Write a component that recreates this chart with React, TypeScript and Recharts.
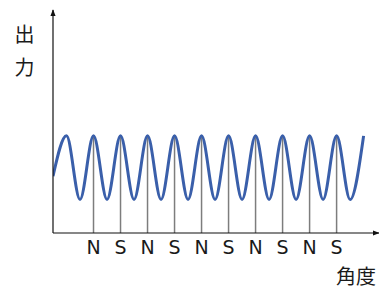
import React from "react";
import {
  LineChart,
  Line,
  XAxis,
  YAxis,
  ReferenceLine,
} from "recharts";

// wave sampled at its turning points (x in pole pitches, y in output units)
const waveX = [
  -0.5, 0, 0.5, 1, 1.5, 2, 2.5, 3, 3.5, 4, 4.5, 5, 5.5, 6, 6.5, 7, 7.5, 8,
  8.5, 9, 9.5, 10, 10.5, 11,
];
const waveY = [
  1.78, 3.05, 1.05, 3.05, 1.05, 3.05, 1.05, 3.05, 1.05, 3.05, 1.05, 3.05,
  1.05, 3.05, 1.05, 3.05, 1.05, 3.05, 1.05, 3.05, 1.05, 3.05, 1.05, 3.05,
];

const poleX = [1, 2, 3, 4, 5, 6, 7, 8, 9, 10];
const poleLabels = ["N", "S", "N", "S", "N", "S", "N", "S", "N", "S"];
const poleTop = 3.05;

const chartData = waveX.map((x, i) => ({ x, y: waveY[i] }));

const AXIS = "#111";
const CJK = "'Noto Sans CJK JP', 'Noto Sans', sans-serif";

export default function App() {
  return (
    <div style={{ position: "absolute", left: 0, top: 0 }}>
      <svg width={0} height={0} style={{ position: "absolute" }}>
        <defs>
          <marker
            id="arrow"
            viewBox="0 0 8 8"
            refX="7"
            refY="4"
            markerWidth="7"
            markerHeight="8"
            markerUnits="userSpaceOnUse"
            orient="auto-start-reverse"
          >
            <path d="M0,1 L8,4 L0,7 z" fill={AXIS} />
          </marker>
        </defs>
      </svg>
      <LineChart
        width={379}
        height={288}
        data={chartData}
        margin={{ top: 10, right: 0, bottom: 54, left: 52 }}
      >
        <XAxis
          dataKey="x"
          type="number"
          domain={[-0.5, 11.57]}
          ticks={poleX}
          tickFormatter={(v) => poleLabels[poleX.indexOf(v)] ?? ""}
          tickLine={false}
          tickSize={0}
          tickMargin={8}
          height={1}
          axisLine={{ stroke: AXIS, strokeWidth: 1.2, markerEnd: "url(#arrow)" }}
          tick={{
            fontSize: 19,
            fill: "#1a1a1a",
            fontFamily: "'DejaVu Sans', sans-serif",
          }}
          interval={0}
          allowDataOverflow
        />
        <YAxis
          type="number"
          domain={[0, 7]}
          ticks={[]}
          tickLine={false}
          width={1}
          axisLine={{
            stroke: AXIS,
            strokeWidth: 1.2,
            markerStart: "url(#arrow)",
          }}
        />
        {poleX.map((px) => (
          <ReferenceLine
            key={px}
            segment={[
              { x: px, y: 0 },
              { x: px, y: poleTop },
            ]}
            stroke="#7d7d7d"
            strokeWidth={1.5}
          />
        ))}
        <Line
          type="monotone"
          dataKey="y"
          stroke="#3a5faa"
          strokeWidth={3}
          dot={false}
          isAnimationActive={false}
        />
      </LineChart>
      <svg
        width={379}
        height={288}
        style={{ position: "absolute", left: 0, top: 0, pointerEvents: "none" }}
      >
        <text x={24.5} y={42} fontSize={20} fontFamily={CJK} textAnchor="middle" fill="#1a1a1a">
          出
        </text>
        <text x={24.5} y={75} fontSize={20} fontFamily={CJK} textAnchor="middle" fill="#1a1a1a">
          力
        </text>
        <text x={376} y={284} fontSize={20} fontFamily={CJK} textAnchor="end" fill="#1a1a1a">
          角度
        </text>
      </svg>
    </div>
  );
}
